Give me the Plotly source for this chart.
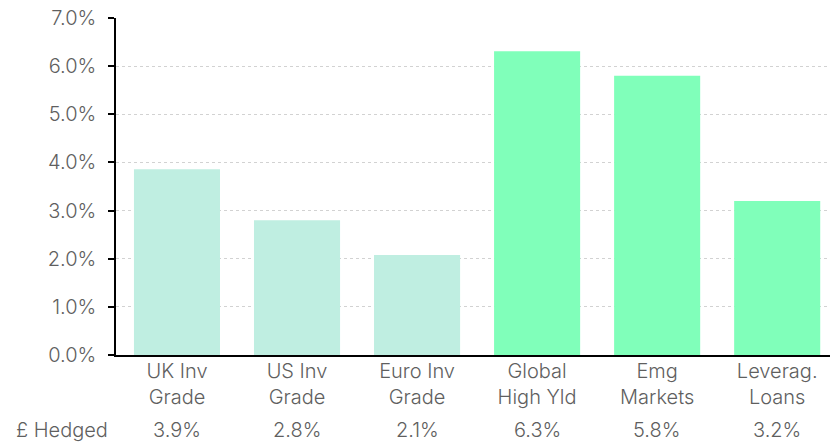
import plotly.graph_objects as go

categories = ["UK Inv<br>Grade", "US Inv<br>Grade", "Euro Inv<br>Grade",
              "Global<br>High Yld", "Emg<br>Markets", "Leverag.<br>Loans"]
values = [3.86, 2.80, 2.08, 6.31, 5.80, 3.20]
hedged_labels = ["3.9%", "2.8%", "2.1%", "6.3%", "5.8%", "3.2%"]
row_label = "£ Hedged"
bar_colors = ["#BFEEE1", "#BFEEE1", "#BFEEE1", "#80FFBA", "#80FFBA", "#80FFBA"]
y_ticks = [0, 1, 2, 3, 4, 5, 6, 7]
y_ticktext = ["0.0%", "1.0%", "2.0%", "3.0%", "4.0%", "5.0%", "6.0%", "7.0%"]

FONT = "Inter"
TXT = "#5f5f5f"
FS = 20
x_idx = list(range(len(categories)))

W, H = 831, 443
L, R, T, B = 116, 1, 18, 88
plot_w = W - L - R

fig = go.Figure()
fig.add_trace(go.Bar(x=x_idx, y=values, marker=dict(color=bar_colors, line=dict(width=0)),
                     width=0.717, hoverinfo="skip"))

annotations = [dict(x=i, y=0, xref="x", yref="paper", text=t, showarrow=False,
                    yshift=-75, font=dict(family=FONT, size=FS, color=TXT, weight=300),
                    xanchor="center", yanchor="middle")
               for i, t in zip(x_idx, hedged_labels)]
annotations.append(dict(x=(62 - L) / plot_w, y=0, xref="paper", yref="paper", text=row_label,
                        showarrow=False, yshift=-75,
                        font=dict(family=FONT, size=FS, color=TXT, weight=300),
                        xanchor="center", yanchor="middle"))

fig.update_layout(
    width=W, height=H,
    margin=dict(l=L, r=R, t=T, b=B, autoexpand=False),
    paper_bgcolor="white", plot_bgcolor="white",
    showlegend=False,
    font=dict(family=FONT, size=FS, color=TXT, weight=300),
    xaxis=dict(range=[-0.508, 5.44], tickvals=x_idx, ticktext=categories,
               showgrid=False, showline=True, linecolor="black", linewidth=1.5,
               ticks="", automargin=False, ticklabeloverflow="allow",
               ticklabelstandoff=-3,
               tickfont=dict(family=FONT, size=FS, color=TXT, weight=300), fixedrange=True),
    yaxis=dict(range=[0, 7.002], tickvals=y_ticks, ticktext=y_ticktext,
               showgrid=True, gridcolor="#d2d2d2", griddash="dot", gridwidth=1,
               showline=True, linecolor="black", linewidth=1.5,
               ticks="outside", ticklen=6, tickcolor="black", tickwidth=1.5,
               ticklabelstandoff=8, automargin=False, ticklabeloverflow="allow",
               zeroline=False, tickfont=dict(family=FONT, size=FS, color=TXT, weight=300),
               fixedrange=True),
    annotations=annotations,
)
fig.write_html("out.html", config={"displayModeBar": False},
               post_script="document.body.style.margin='0';")
